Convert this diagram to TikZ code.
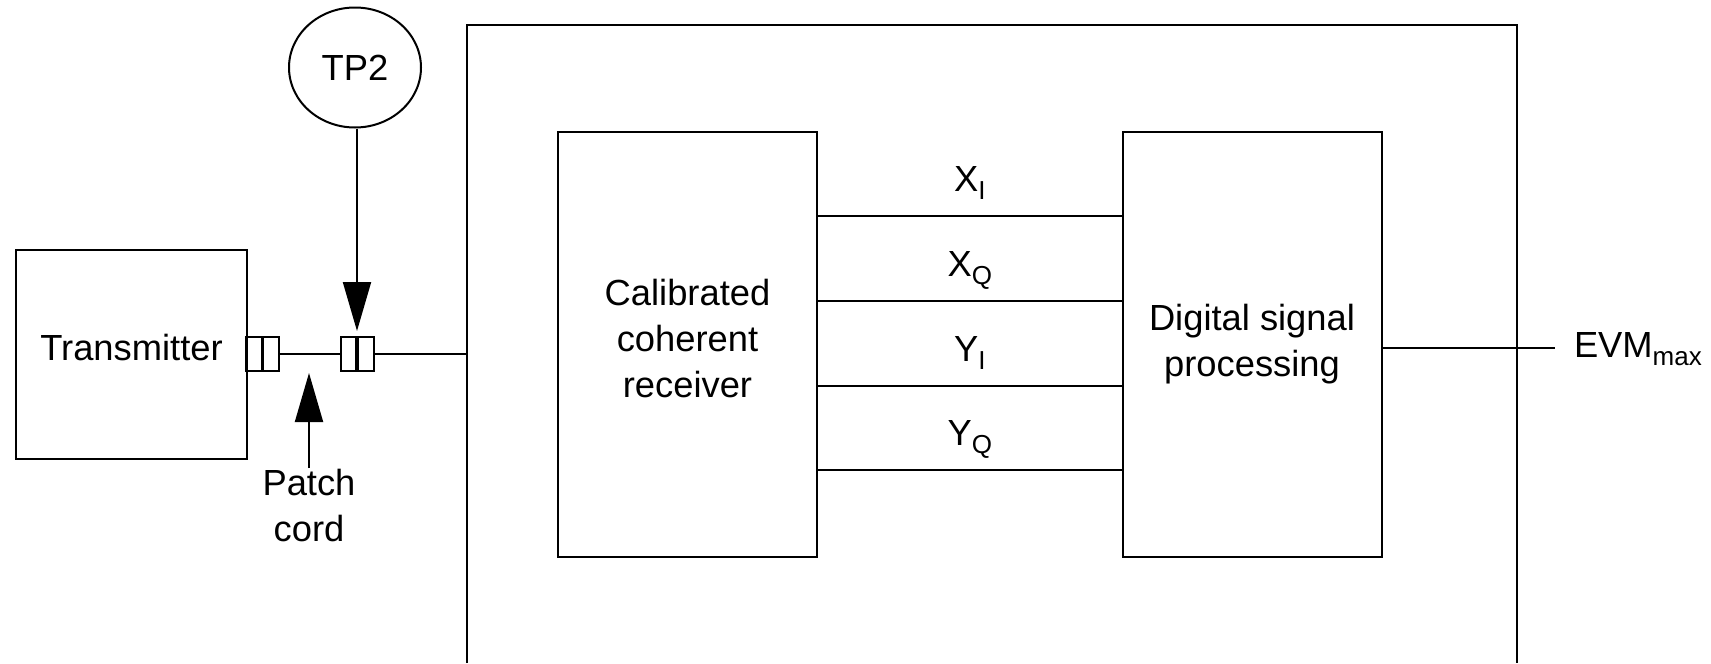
\documentclass[tikz,border=0pt]{standalone}
\usepackage{fontspec}
\setmainfont{Liberation Sans}
\usetikzlibrary{shapes.geometric,arrows.meta}

\newcommand{\subtxt}[1]{\raisebox{-2.4pt}{\fontsize{7.8}{8}\selectfont #1}}

\begin{document}
\begin{tikzpicture}[x=0.3pt,y=-0.3pt,line width=0.6pt,font=\fontsize{10.9}{13.8}\selectfont]
    \tikzstyle{block}=[draw,rectangle,align=center,inner sep=0pt]
    \tikzstyle{jack}=[draw,rectangle,inner sep=0pt,minimum width=9.9pt,minimum height=10.2pt,
      path picture={\draw[line width=1pt] (path picture bounding box.north) -- (path picture bounding box.south);}]
    \tikzstyle{sig}=[anchor=base,yshift=7.5pt,inner sep=0pt]
    \tikzstyle{pointer}=[-{Triangle[length=14.7pt,width=8.4pt]}]
    \useasboundingbox (0,0) rectangle (1711,663);

    % measurement box, open at the bottom
    \draw (467,663) -- (467,25) -- (1517,25) -- (1517,663);
    \coordinate (in) at (467,354);

    \node[block,minimum width=69.3pt,minimum height=62.7pt,text depth=4.2pt] (tx) at (131.5,354) {Transmitter};
    \node[block,minimum width=77.7pt,minimum height=127.5pt,text depth=3.6pt] (rx) at (687.5,344.5) {Calibrated\\coherent\\receiver};
    \node[block,minimum width=77.7pt,minimum height=127.5pt] (dsp) at (1252,344.5) {Digital signal\\processing};
    \node[draw,ellipse,minimum width=39.6pt,minimum height=36pt,inner sep=0pt] (tp2) at (355,67.5) {TP2};
    \node[jack] (jackA) at (262.5,354) {};
    \node[jack] (jackB) at (357,354) {};
    \node[align=center,anchor=north,inner sep=0pt] (pc) at (309,468) {Patch\\cord};
    \node[anchor=base west,inner sep=0pt] (evm) at (1573,357) {EVM\subtxt{max}};

    \draw (jackA.east) -- (jackB.west);
    \draw (jackB.east) -- (in);
    \draw[pointer,shorten >=1.5pt] (jackB.north |- tp2.south) -- (jackB.north);
    \draw[pointer,shorten >=5.7pt] (pc.north) -- (pc.north |- jackA.east);

    \foreach \y/\lab in {216/X\subtxt{I},301/X\subtxt{Q},386/Y\subtxt{I},470/Y\subtxt{Q}}
      \draw (rx.east |- 0,\y) -- node[sig]{\lab} (dsp.west |- 0,\y);

    \draw (dsp.east |- 0,348) -- ([xshift=-5.4pt]evm.west |- 0,348);
\end{tikzpicture}
\end{document}
